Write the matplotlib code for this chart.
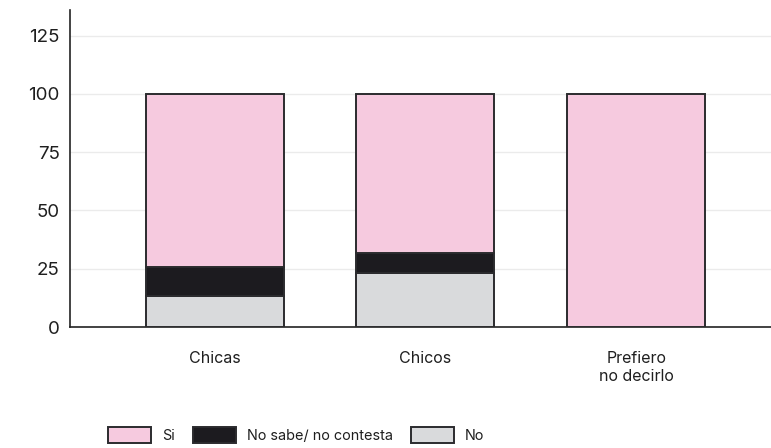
import matplotlib
matplotlib.use("Agg")
import matplotlib.pyplot as plt
import numpy as np

plt.rcParams['font.family'] = ['Inter', 'DejaVu Sans']

categories = ["Chicas", "Chicos", "Prefiero\nno decirlo"]
series_names = ["Si", "No sabe/ no contesta", "No"]
no_vals = [13.3, 23.0, 0.0]
nsnc_vals = [12.3, 8.6, 0.0]
si_vals = [74.4, 68.4, 100.0]
y_ticks = [0, 25, 50, 75, 100, 125]

colors = {"Si": "#F6CADF", "No sabe/ no contesta": "#1C1B1F", "No": "#D9DADC"}
edge = "#2B2B2E"
text_col = "#1f1f1f"

fig = plt.figure(figsize=(7.71, 4.48), dpi=100)
ax = fig.add_axes([70 / 771, 1 - 327 / 448, 1 - 70 / 771, (327 - 10) / 448])

x = np.arange(len(categories))
w = 0.655
b_no = ax.bar(x, no_vals, w, color=colors["No"], edgecolor=edge, linewidth=1.4, zorder=3)
b_ns = ax.bar(x, nsnc_vals, w, bottom=no_vals, color=colors["No sabe/ no contesta"],
              edgecolor=edge, linewidth=1.4, zorder=3)
bottom_si = np.array(no_vals) + np.array(nsnc_vals)
b_si = ax.bar(x, si_vals, w, bottom=bottom_si, color=colors["Si"], edgecolor=edge,
              linewidth=1.4, zorder=3)

ax.set_xlim(-0.687, 2.64)
ax.set_ylim(0, 136)
ax.set_yticks(y_ticks)
ax.set_yticklabels([str(t) for t in y_ticks], fontsize=13.5, color=text_col)
ax.set_xticks(x)
ax.set_xticklabels(categories, fontsize=11.5, color=text_col, linespacing=1.25)
ax.tick_params(axis="both", length=0)
ax.tick_params(axis="x", pad=17)
ax.tick_params(axis="y", pad=7.5)

ax.grid(axis="y", color="#EBEBEB", linewidth=1, zorder=0)
for s in ["top", "right"]:
    ax.spines[s].set_visible(False)
for s in ["left", "bottom"]:
    ax.spines[s].set_color("#222222")
    ax.spines[s].set_linewidth(1.2)

handles = [b_si[0], b_ns[0], b_no[0]]
leg = fig.legend(handles, series_names, loc="lower left", bbox_to_anchor=(108 / 771, 5 / 448),
                 ncol=3, frameon=False, fontsize=10.4, handlelength=3.0, handleheight=1.3,
                 columnspacing=1.2, handletextpad=0.78, borderpad=0, borderaxespad=0)
for t in leg.get_texts():
    t.set_color(text_col)

fig.savefig("out.png", dpi=100)
